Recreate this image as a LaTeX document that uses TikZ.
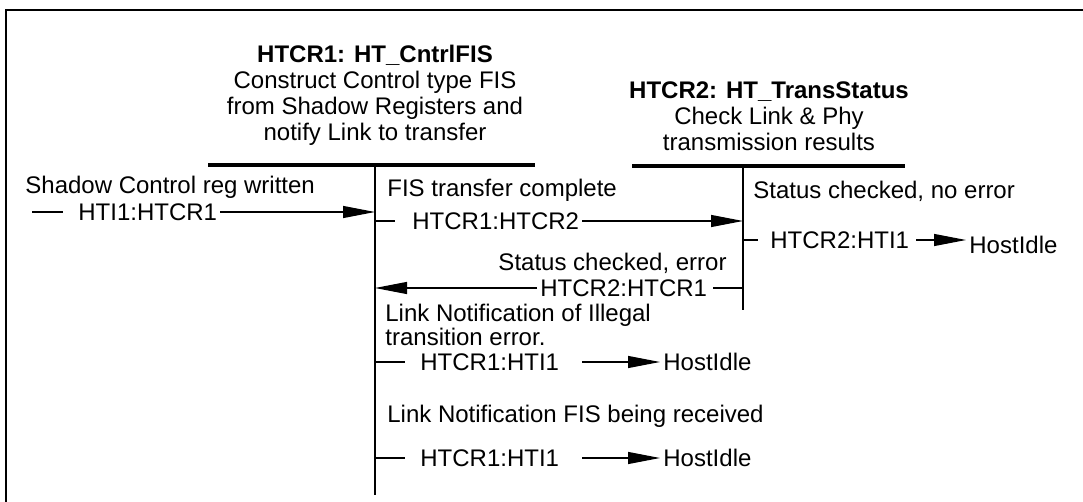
\documentclass[tikz,border=0pt]{standalone}
\usepackage{fontspec}
\setmainfont{Liberation Sans}
\usetikzlibrary{arrows.meta, positioning, calc}

\begin{document}
\begin{tikzpicture}[
    x=0.5pt, y=-0.5pt,
    font=\fontsize{12}{13}\selectfont,
    txt/.style={inner sep=1.5pt, text height=8.6pt, text depth=0pt},
    note/.style={inner sep=0pt, align=left, font=\fontsize{12}{11.8}\selectfont},
    title/.style={inner sep=0pt, align=center},
    bar/.style={line width=2.4pt},
    life/.style={line width=0.9pt},
    tick/.style={line width=0.6pt},
    arrow/.style={-{Triangle[length=16pt,width=6pt]}, line width=0.6pt}
]

\useasboundingbox (0,0) rectangle (1083,502);

% Frame
\draw[line width=1pt] (6,502) -- (6,10) -- (1083,10);

% State HTCR1
\node[title, anchor=south] (h1) at (375,146) {\textbf{HTCR1: HT\textunderscore CntrlFIS}\\Construct Control type FIS\\from Shadow Registers and\\notify Link to transfer};
\coordinate (b1l) at (208,165);
\coordinate (b1r) at (535,165);
\coordinate (s1top) at (375,165);
\coordinate (s1bot) at (375,495);
\draw[bar] (b1l) -- (b1r);
\draw[life] (s1top) -- (s1bot);

% State HTCR2
\node[title, anchor=south] (h2) at (769,151) {\textbf{HTCR2: HT\textunderscore TransStatus}\\Check Link \& Phy\\transmission results};
\coordinate (b2l) at (632,166);
\coordinate (b2r) at (905,166);
\coordinate (s2top) at (743,166);
\coordinate (s2bot) at (743,310);
\draw[bar] (b2l) -- (b2r);
\draw[life] (s2top) -- (s2bot);

% Entry into HTCR1
\node[txt, anchor=west] (ev1) at (22,185) {Shadow Control reg written};
\node[txt, anchor=west] (tr1) at (75,212) {HTI1:HTCR1};
\draw[tick] ([xshift=-21.5pt]tr1.west) -- ([xshift=-6pt]tr1.west);
\draw[arrow] (tr1.east) -- (tr1.east -| s1top);

% HTCR1 -> HTCR2
\node[txt, anchor=west] (ev2) at (384,188) {FIS transfer complete};
\node[txt, anchor=west] (tr2) at (409,221) {HTCR1:HTCR2};
\draw[tick] (tr2.west -| s1top) -- ++(20,0);
\draw[arrow] (tr2.east) -- (tr2.east -| s2top);

% HTCR2 -> HostIdle
\node[txt, anchor=west] (ev3) at (750,190) {Status checked, no error};
\node[txt, anchor=west] (tr3) at (767,240) {HTCR2:HTI1};
\node[txt, anchor=west] (hi1) at (966,245) {HostIdle};
\draw[tick] (tr3.west -| s2top) -- ++(15,0);
\draw[arrow] ([xshift=2pt]tr3.east) -- (tr3.east -| hi1.west);

% HTCR2 -> HTCR1
\node[txt, anchor=east] (ev4) at (730,262) {Status checked, error};
\node[txt, anchor=west] (tr4) at (537,288) {HTCR2:HTCR1};
\draw[tick] ([xshift=1.5pt]tr4.east) -- (tr4.east -| s2top);
\draw[arrow] (tr4.west) -- (tr4.west -| s1top);

% HTCR1 -> HostIdle (illegal transition)
\node[note, anchor=north west] (ev5) at (385,304) {Link Notification of Illegal\\transition error.};
\node[txt, anchor=west] (tr5) at (417,362) {HTCR1:HTI1};
\node[txt, anchor=west] (hi2) at (660,362) {HostIdle};
\draw[tick] (tr5.west -| s1top) -- ++(30,0);
\draw[arrow] ([xshift=10pt]tr5.east) -- (hi2.west);

% HTCR1 -> HostIdle (FIS received)
\node[txt, anchor=west] (ev6) at (384,414) {Link Notification FIS being received};
\node[txt, anchor=west] (tr6) at (417,458) {HTCR1:HTI1};
\node[txt, anchor=west] (hi3) at (660,458) {HostIdle};
\draw[tick] (tr6.west -| s1top) -- ++(30,0);
\draw[arrow] ([xshift=10pt]tr6.east) -- (hi3.west);

\end{tikzpicture}
\end{document}
